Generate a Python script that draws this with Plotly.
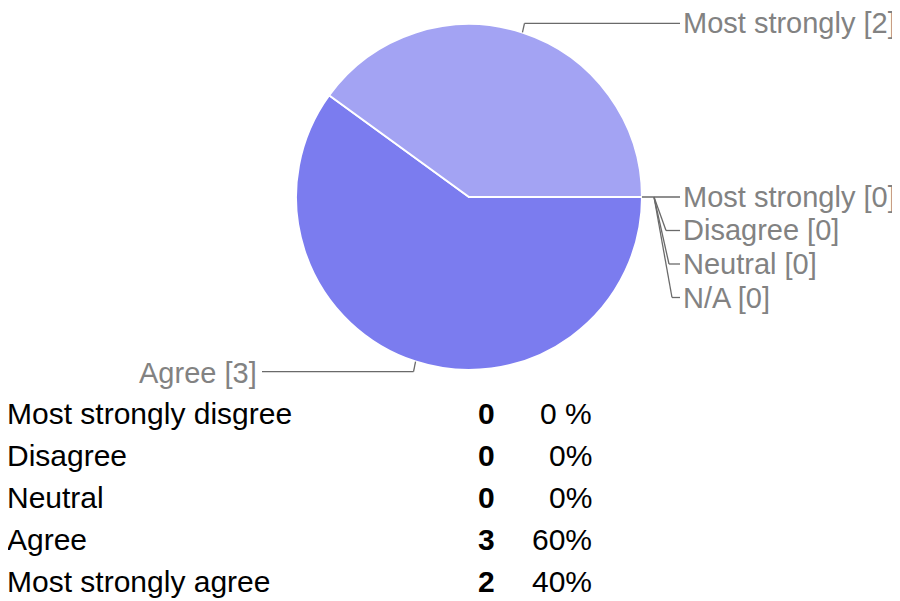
import math
import plotly.graph_objects as go

# ---- data ----
categories = ["Most strongly disgree", "Disagree", "Neutral", "Agree", "Most strongly agree"]
counts = [0, 0, 0, 3, 2]
percent_labels = ["0 %", "0%", "0%", "60%", "40%"]
pie_labels = ["Most strongly [0]", "Disagree [0]", "Neutral [0]", "Agree [3]", "Most strongly [2]", "N/A [0]"]

# pie order (clockwise from 3 o'clock)
pie_order = [3, 4, 0, 1, 2]
slice_colors = {3: "#7b7cef", 4: "#a3a3f3", 0: "#c4c4f7", 1: "#d0d0f8", 2: "#dcdcfa"}

OFF = 8            # page body margin
W, H = 892, 593    # figure size so that page is 900x601
CX, CY, R = 469, 197, 173  # pie placement in page pixels
PAD = 3            # annotation text padding

def px(x):
    return (x - OFF) / W

def py(y):
    return 1 - (y - OFF) / H

fig = go.Figure()
fig.add_trace(go.Pie(
    labels=[categories[i] for i in pie_order],
    values=[counts[i] for i in pie_order],
    marker=dict(colors=[slice_colors[i] for i in pie_order], line=dict(color="white", width=2)),
    sort=False, direction="clockwise", rotation=90,
    textinfo="none", hoverinfo="label+value+percent", showlegend=False,
    domain=dict(x=[px(CX - R), px(CX + R)], y=[py(CY + R), py(CY - R)]),
))

shapes = []
annotations = []
LINE = dict(color="#6a6a6a", width=1.3)
LBL_FONT = dict(family="Liberation Sans, Arial", size=29, color="#828282")

def line(x0, y0, x1, y1):
    shapes.append(dict(type="line", xref="paper", yref="paper",
                       x0=px(x0), y0=py(y0), x1=px(x1), y1=py(y1), line=LINE))

def text(t, x, y, anchor, font):
    ax = x - PAD if anchor == "left" else x + PAD
    annotations.append(dict(text=t, xref="paper", yref="paper", x=px(ax), y=py(y),
                            xanchor=anchor, yanchor="middle", showarrow=False, font=font))

total = sum(counts)
# slice mid angles (compass degrees, clockwise from north)
start = 90.0
mids = {}
for i in pie_order:
    span = 360.0 * counts[i] / total
    mids[i] = start + span / 2
    start += span

def edge(angle):
    a = math.radians(angle)
    return CX + R * math.sin(a), CY - R * math.cos(a)

# Most strongly agree label (top right)
ex, ey = edge(mids[4])
ly = ey - 9
line(ex, ey, ex + 2, ly)
line(ex + 2, ly, 680, ly)
text(pie_labels[4], 684, ly, "left", LBL_FONT)

# Agree label (bottom left)
ex, ey = edge(mids[3])
ly = ey + 10
line(ex, ey, ex - 2, ly)
line(ex - 2, ly, 262, ly)
text(pie_labels[3], 256, ly + 1, "right", LBL_FONT)

# zero-valued slices at 3 o'clock
zx, zy = edge(90)
line(zx, zy, 680, zy)
text(pie_labels[0], 684, zy, "left", LBL_FONT)
zero_rows = [pie_labels[1], pie_labels[2], pie_labels[5]]
for k, t in enumerate(zero_rows):
    yy = zy + 33.5 * (k + 1)
    bx = 666 + 3 * k
    line(zx + 12, zy, bx, yy)
    line(bx, yy, 680, yy)
    text(t, 684, yy, "left", LBL_FONT)

# table below
TBL_FONT = dict(family="Liberation Sans, Arial", size=30, color="#000000")
row_y0, row_dy = 413, 42.2
for r, (cat, c, p) in enumerate(zip(categories, counts, percent_labels)):
    yy = row_y0 + r * row_dy
    text(cat, 8, yy, "left", TBL_FONT)
    text("<b>%d</b>" % c, 494, yy, "right", TBL_FONT)
    text(p, 591, yy, "right", TBL_FONT)

fig.update_layout(
    width=W, height=H, margin=dict(l=0, r=0, t=0, b=0),
    paper_bgcolor="white", plot_bgcolor="white",
    shapes=shapes, annotations=annotations,
)
fig.write_html("out.html")
